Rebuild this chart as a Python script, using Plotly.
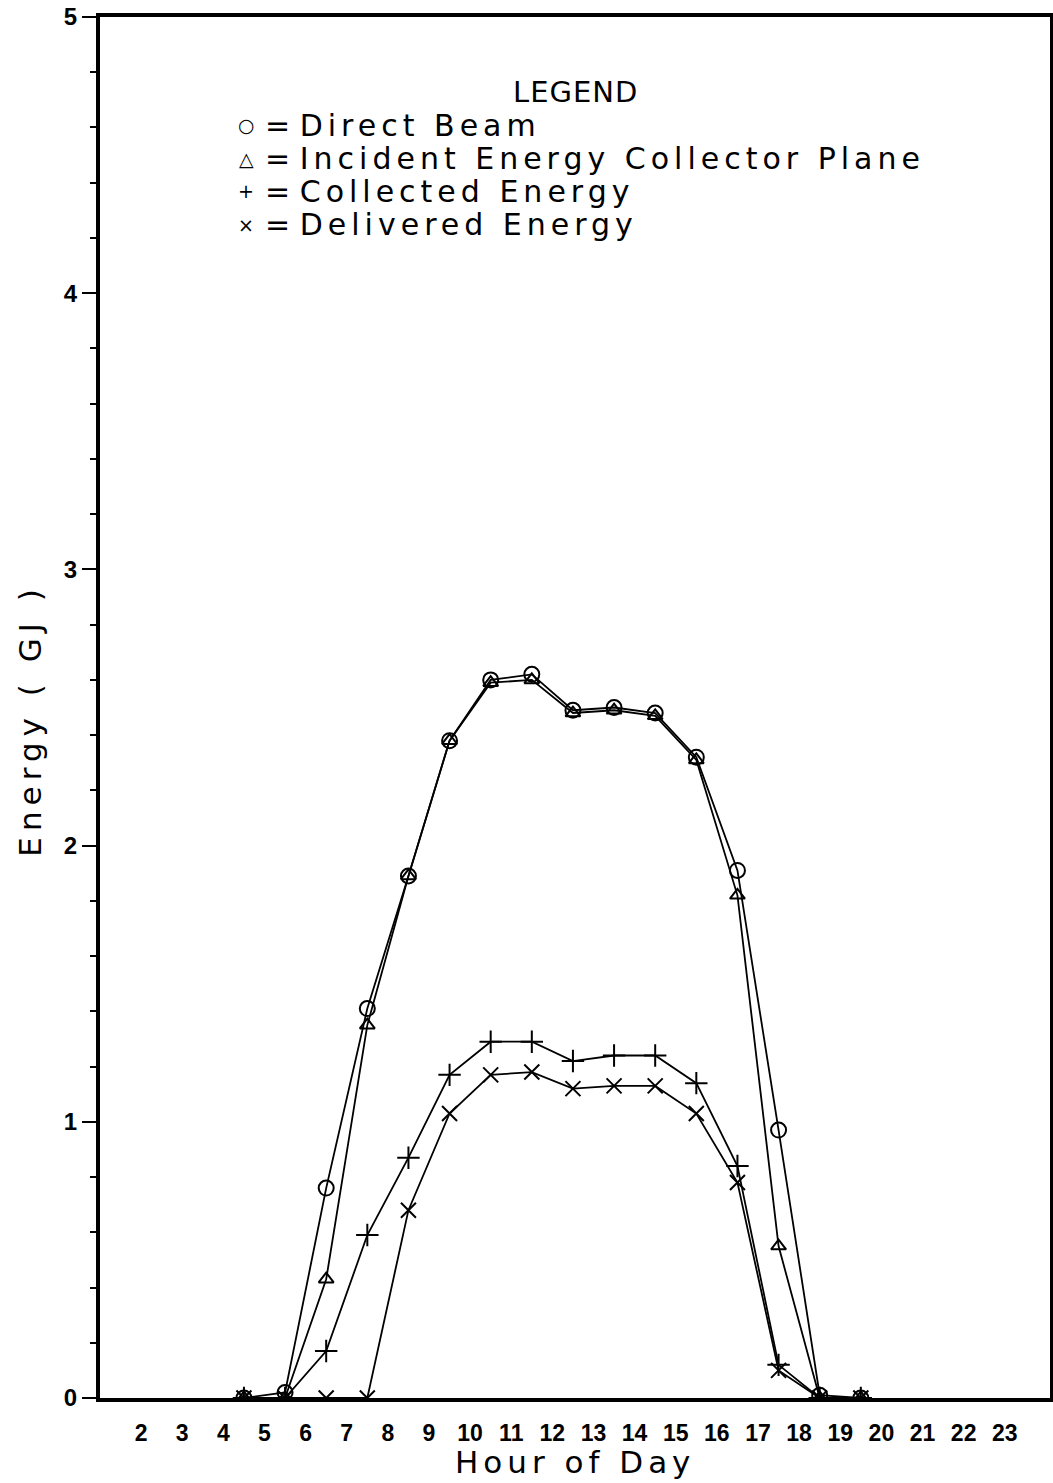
import plotly.graph_objects as go

hours = [4.5, 5.5, 6.5, 7.5, 8.5, 9.5, 10.5, 11.5, 12.5, 13.5, 14.5, 15.5, 16.5, 17.5, 18.5, 19.5]
direct_beam = [0.0, 0.02, 0.76, 1.41, 1.89, 2.38, 2.60, 2.62, 2.49, 2.50, 2.48, 2.32, 1.91, 0.97, 0.01, 0.0]
incident = [0.0, 0.0, 0.43, 1.35, 1.89, 2.38, 2.59, 2.60, 2.48, 2.49, 2.47, 2.31, 1.82, 0.55, 0.0, 0.0]
collected = [0.0, 0.0, 0.17, 0.59, 0.87, 1.17, 1.29, 1.29, 1.22, 1.24, 1.24, 1.14, 0.84, 0.12, 0.0, 0.0]
delivered = [0.0, 0.0, 0.0, 0.0, 0.68, 1.03, 1.17, 1.18, 1.12, 1.13, 1.13, 1.03, 0.78, 0.10, 0.0, 0.0]

x_ticks = list(range(2, 24))
y_ticks = [0, 1, 2, 3, 4, 5]

legend_title = "LEGEND"
legend_symbols = ["○", "△", "+", "×"]
legend_labels = ["Direct Beam", "Incident Energy Collector Plane", "Collected Energy", "Delivered Energy"]
x_title = "Hour of Day"
y_title = "Energy ( GJ )"

FONT = "DejaVu Sans"
TICKFONT = "Liberation Sans"

fig = go.Figure()

series = [
    (direct_beam, "circle-open", 15),
    (incident, "triangle-up-open", 13),
    (collected, "cross-thin-open", 16),
    (delivered, "x-thin-open", 15),
]
for vals, sym, size in series:
    fig.add_trace(go.Scatter(
        x=hours, y=vals, mode="lines+markers",
        line=dict(color="black", width=1.8),
        marker=dict(symbol=sym, size=size, color="black",
                    line=dict(color="black", width=2)),
        showlegend=False,
    ))

def spaced(t, px):
    return '<span style="letter-spacing:%dpx">%s</span>' % (px, t)

fig.add_annotation(x=0.5, y=0.9457, xref="paper", yref="paper",
                   text=spaced(legend_title, 1), showarrow=False,
                   xanchor="center", yanchor="middle",
                   font=dict(family=FONT, size=29, color="black"))
ys = [0.9215, 0.8975, 0.8737, 0.8497]
for sym, label, yy in zip(legend_symbols, legend_labels, ys):
    fig.add_annotation(x=0.154, y=yy, xref="paper", yref="paper",
                       text=sym, showarrow=False,
                       xanchor="center", yanchor="middle",
                       font=dict(family=FONT, size=19, color="black"))
    fig.add_annotation(x=0.172, y=yy, xref="paper", yref="paper",
                       text="= " + spaced(label, 5), showarrow=False,
                       xanchor="left", yanchor="middle",
                       font=dict(family=FONT, size=30, color="black"))

fig.add_annotation(x=0.5, y=-0.0465, xref="paper", yref="paper",
                   text=spaced(x_title, 5), showarrow=False,
                   xanchor="center", yanchor="middle",
                   font=dict(family=FONT, size=31, color="black"))
fig.add_annotation(x=-0.074, y=0.491, xref="paper", yref="paper",
                   text=spaced(y_title, 6), showarrow=False, textangle=-90,
                   xanchor="center", yanchor="middle",
                   font=dict(family=FONT, size=31, color="black"))

fig.update_xaxes(
    range=[1, 24.1], tickmode="array", tickvals=x_ticks,
    ticktext=[str(v) for v in x_ticks],
    ticks="", ticklabelstandoff=11,
    tickfont=dict(family=TICKFONT, size=23, color="black", weight="bold"),
    showline=True, linecolor="black", linewidth=4, mirror=True,
    showgrid=False, zeroline=False, automargin=False,
)
fig.update_yaxes(
    range=[0, 5], tickmode="array", tickvals=y_ticks,
    ticks="outside", ticklen=14, tickwidth=2, tickcolor="black",
    minor=dict(dtick=0.2, ticks="outside", ticklen=6, tickwidth=2, tickcolor="black"),
    tickfont=dict(family=TICKFONT, size=24, color="black", weight="bold"),
    showline=True, linecolor="black", linewidth=4, mirror=True,
    showgrid=False, zeroline=False, automargin=False,
)

fig.update_layout(
    width=1053, height=1483,
    margin=dict(l=100, r=3, t=17, b=85),
    paper_bgcolor="white", plot_bgcolor="white",
)

fig.write_html("out.html")
